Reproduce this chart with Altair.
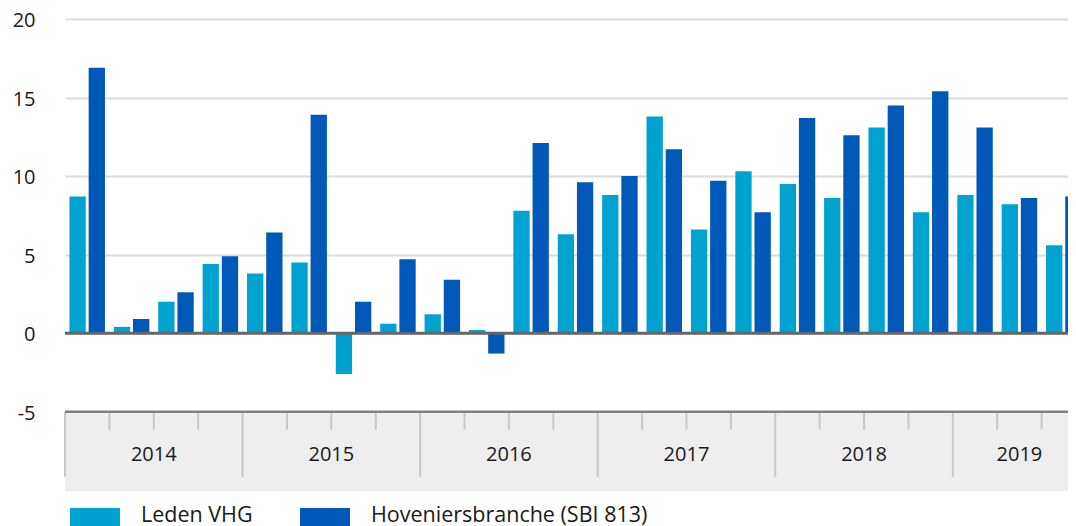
import altair as alt
import pandas as pd

# ---------------- data ----------------
years = ["2014", "2015", "2016", "2017", "2018", "2019"]
quarters_per_year = [4, 4, 4, 4, 4, 3]
quarter_names = ["Q1", "Q2", "Q3", "Q4"]
series_names = ["Leden VHG", "Hoveniersbranche (SBI 813)"]
series_colors = ["#00A3CF", "#0058B8"]

leden_vhg = [8.7, 0.4, 2.0, 4.4, 3.8, 4.5, -2.6, 0.6, 1.2, 0.2, 7.8, 6.3,
             8.8, 13.8, 6.6, 10.3, 9.5, 8.6, 13.1, 7.7, 8.8, 8.2, 5.6]
hoveniers = [16.9, 0.9, 2.6, 4.9, 6.4, 13.9, 2.0, 4.7, 3.4, -1.3, 12.1, 9.6,
             10.0, 11.7, 9.7, 7.7, 13.7, 12.6, 14.5, 15.4, 13.1, 8.6, 8.7]
y_ticks = [-5, 0, 5, 10, 15, 20]

# ---------------- layout constants ----------------
FONT = "Open Sans"
TEXT_COLOR = "#1a1a1a"
Y_MIN, Y_MAX = -10.05, 20
STRIP_TOP = -5
YEAR_LINE_BOTTOM = -9.15
QUARTER_TICK_BOTTOM = -6.15
YEAR_LABEL_Y = -7.75
VISIBLE_W = 1003      # plot area visible inside the page
FULL_W = 1021         # the original chart runs past the right edge

# ---------------- tables ----------------
periods = []
for y, n in zip(years, quarters_per_year):
    for q in quarter_names[:n]:
        periods.append(f"{y} {q}")
N = len(periods)

rows = []
for i, p in enumerate(periods):
    rows.append({"period": p, "series": series_names[0], "value": leden_vhg[i], "base": 0})
    rows.append({"period": p, "series": series_names[1], "value": hoveniers[i], "base": 0})
bars_df = pd.DataFrame(rows)

year_rows = []
start = 0
year_starts = set()
for y, n in zip(years, quarters_per_year):
    year_rows.append({"year": y, "start": start, "end": start + n, "mid": start + n / 2,
                      "top": STRIP_TOP, "bottom": Y_MIN, "label_y": YEAR_LABEL_Y})
    year_starts.add(start)
    start += n
year_starts.add(N)
years_df = pd.DataFrame(year_rows)

bounds_df = pd.DataFrame({
    "pos": list(range(N + 1)),
    "top": [STRIP_TOP] * (N + 1),
    "depth": [YEAR_LINE_BOTTOM if i in year_starts else QUARTER_TICK_BOTTOM for i in range(N + 1)],
})

lines_df = pd.DataFrame({
    "x0": [0, 0], "x1": [N, N], "y": [0, STRIP_TOP], "kind": ["zero", "strip"],
})

# ---------------- chart ----------------
yscale = alt.Scale(domain=[Y_MIN, Y_MAX], nice=False, zero=False)
x_idx = alt.Scale(domain=[0, N], nice=False, zero=False, range=[0, FULL_W])

bars = alt.Chart(bars_df).mark_bar().encode(
    x=alt.X("period:N", sort=periods,
            scale=alt.Scale(domain=periods, paddingInner=0.2, paddingOuter=0.1,
                            range=[0, FULL_W]),
            axis=None),
    xOffset=alt.XOffset("series:N",
                        scale=alt.Scale(domain=series_names, paddingInner=0.15, paddingOuter=0)),
    y=alt.Y("value:Q", scale=yscale,
            axis=alt.Axis(values=y_ticks, title=None, grid=True, gridColor="#dcdcdc",
                          gridWidth=2, domain=False, ticks=False, labelPadding=30,
                          labelOffset=1.5,
                          labelFontSize=20, labelFont=FONT, labelColor=TEXT_COLOR,
                          labelExpr="'' + datum.value")),
    y2="base:Q",
    color=alt.Color("series:N",
                    scale=alt.Scale(domain=series_names, range=series_colors),
                    legend=alt.Legend(title=None, orient="none", legendX=5, legendY=472,
                                      direction="horizontal",
                                      symbolType="M-1,-0.32H1V0.8H-1Z", symbolSize=2500,
                                      symbolStrokeWidth=0, labelFontSize=21.5, labelFont=FONT,
                                      labelColor=TEXT_COLOR, labelOffset=21,
                                      columnPadding=47, padding=0, labelLimit=0)),
)

strip = alt.Chart(years_df).mark_rect(color="#eeeeee").encode(
    x=alt.X("start:Q", scale=x_idx, axis=None),
    x2="end:Q",
    y=alt.Y("top:Q"),
    y2="bottom:Q",
)

ticks = alt.Chart(bounds_df).mark_rule(color="#c8c8c8", strokeWidth=2).encode(
    x=alt.X("pos:Q", scale=x_idx, axis=None),
    y=alt.Y("top:Q"),
    y2="depth:Q",
)

year_labels = alt.Chart(years_df).mark_text(
    fontSize=20, font=FONT, color=TEXT_COLOR, baseline="middle", align="center"
).encode(
    x=alt.X("mid:Q", scale=x_idx, axis=None),
    y=alt.Y("label_y:Q"),
    text="year:N",
)

hlines = alt.Chart(lines_df).mark_rule().encode(
    x=alt.X("x0:Q", scale=x_idx, axis=None),
    x2="x1:Q",
    y=alt.Y("y:Q"),
    color=alt.Color("kind:N", scale=alt.Scale(domain=["zero", "strip"], range=["#666666", "#808080"]),
                    legend=None),
    strokeWidth=alt.StrokeWidth("kind:N", scale=alt.Scale(domain=["zero", "strip"], range=[3, 2.5]),
                                legend=None),
)

chart = alt.layer(
    bars,
    alt.layer(strip, ticks, year_labels, hlines),
).resolve_scale(x="independent", color="independent").properties(
    width=VISIBLE_W, height=472,
    autosize=alt.AutoSizeParams(type="none"),
    padding={"left": 57, "top": 11, "right": 0, "bottom": 50},
).configure_view(stroke=None)

chart.save("out.html", embed_options={"renderer": "svg", "actions": False})
